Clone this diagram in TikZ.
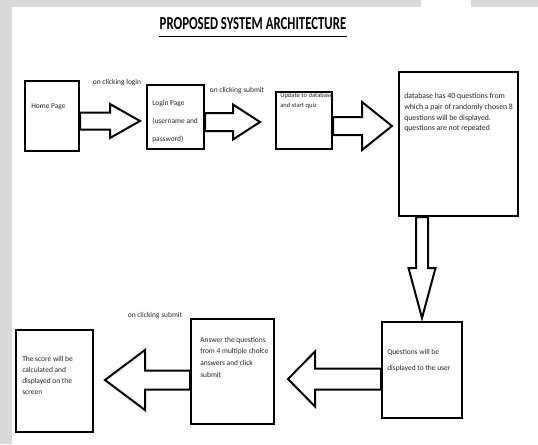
\documentclass[tikz,border=0pt]{standalone}
\usepackage{fontspec}
\setmainfont{Carlito}
\newfontfamily\titlefont[FakeStretch=0.7]{Carlito}
\usetikzlibrary{calc}

\begin{document}
\begin{tikzpicture}[x=0.25mm,y=-0.25mm,line join=miter,
	box/.style={draw,line width=0.5mm,inner sep=0pt},
	txt/.style={inner sep=0pt,anchor=north west,align=left,text=black!85,font=\fontsize{5.3}{#1}\selectfont},
	txt/.default=7pt,
	lbl/.style={inner sep=0pt,text=black!85,font=\fontsize{5.3}{6}\selectfont},
	blockarr/.style n args={3}{draw,fill=white,line width=0.5mm,
		to path={($(\tikztostart)!#1!90:(\tikztotarget)$)
			-- ($($(\tikztotarget)!#3!(\tikztostart)$)!#1!90:(\tikztotarget)$)
			-- ($($(\tikztotarget)!#3!(\tikztostart)$)!#2!90:(\tikztotarget)$)
			-- (\tikztotarget)
			-- ($($(\tikztotarget)!#3!(\tikztostart)$)!#2!-90:(\tikztotarget)$)
			-- ($($(\tikztotarget)!#3!(\tikztostart)$)!#1!-90:(\tikztotarget)$)
			-- ($(\tikztostart)!#1!-90:(\tikztotarget)$) -- cycle}}]
	\useasboundingbox (0,0) rectangle (538,444);
	\fill[white] (0,0) rectangle (538,444);
	\fill[gray!30] (0,0) rectangle (538,7);
	\fill[gray!30] (0,0) rectangle (12,444);
	\fill[white] (421,0) rectangle (471,7);
	
	\node[inner sep=0pt,font=\titlefont\bfseries\fontsize{13}{14}\selectfont] (title) at (253,24) {PROPOSED SYSTEM ARCHITECTURE};
	\draw[line width=0.4mm] ([yshift=-1.5mm]title.south west) -- ([yshift=-1.5mm]title.south east);
	
	\node[box,minimum width=13.5mm,minimum height=17.5mm] (home) at (52,115.5) {};
	\node[box,minimum width=14.25mm,minimum height=16mm] (login) at (175.5,117) {};
	\node[box,minimum width=14mm,minimum height=14.25mm] (update) at (304,120.5) {};
	\node[box,minimum width=29.75mm,minimum height=36mm] (db) at (458.5,144) {};
	\node[box,minimum width=20mm,minimum height=24mm] (questions) at (422,370) {};
	\node[box,minimum width=20.75mm,minimum height=26.25mm] (answer) at (232.5,371.5) {};
	\node[box,minimum width=19.25mm,minimum height=25.5mm] (score) at (54.5,381) {};
	
	\node[txt] (hometxt) at (31,103) {Home Page};
	\node[txt=12.8pt] (logintxt) at (152,100) {Login Page\\(username and\\password)};
	\node[txt,font=\fontsize{4.7}{6.5}\selectfont] (updatetxt) at (280,93) {Update to database\\and start quiz};
	\node[txt,font=\fontsize{5.55}{7.6}\selectfont] (dbtxt) at (404,93) {database has 40 questions from\\which a pair of randomly chosen 8\\questions will be displayed.\\questions are not repeated};
	\node[txt=11.4pt] (questionstxt) at (387,349) {Questions will be\\displayed to the user};
	\node[txt=8.2pt] (answertxt) at (200,337) {Answer the questions\\from 4 multiple choice\\answers and click\\submit};
	\node[txt=7.8pt] (scoretxt) at (22,356) {The score will be\\calculated and\\displayed on the\\screen};
	
	\node[lbl] (lbllogin) at (117,83) {on clicking login};
	\node[lbl] (lblsubmit) at (237,91) {on clicking submit};
	\node[lbl] (lblanswer) at (155,316) {on clicking submit};
	
	\coordinate (tip1) at (140,121);
	\coordinate (tip2) at (260,122);
	\coordinate (tip3) at (392,126);
	\coordinate (tip4) at (422,318);
	\coordinate (tip5) at (288,379);
	\coordinate (tip6) at (105,380);
	
	\draw[blockarr={2.125mm}{4.25mm}{7.5mm}] (home.east |- tip1) to (tip1);
	\draw[blockarr={2.25mm}{4.375mm}{6.75mm}] (login.east |- tip2) to (tip2);
	\draw[blockarr={2.25mm}{6mm}{7.5mm}] (update.east |- tip3) to (tip3);
	\draw[blockarr={1.5mm}{3.375mm}{12.5mm}] (db.south -| tip4) to (tip4);
	\draw[blockarr={2.625mm}{6.875mm}{6.75mm}] (questions.west |- tip5) to (tip5);
	\draw[blockarr={2.375mm}{7.5mm}{10mm}] (answer.west |- tip6) to (tip6);
\end{tikzpicture}
\end{document}
